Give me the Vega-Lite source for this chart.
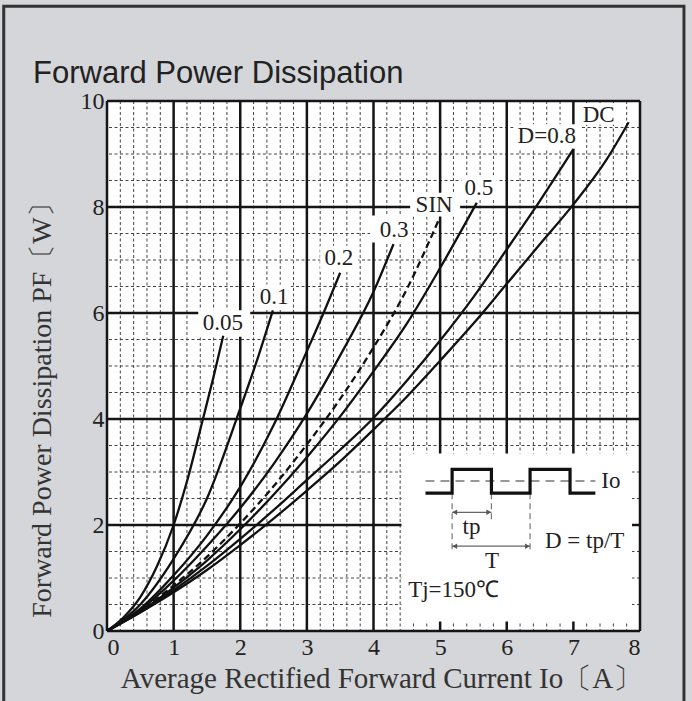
{
  "$schema": "https://vega.github.io/schema/vega-lite/v6.json",
  "width": 533,
  "height": 530,
  "autosize": "none",
  "padding": {"left": 107, "top": 101, "right": 52, "bottom": 70},
  "background": "#d4d6d9",
  "view": {"fill": "white", "stroke": null},
  "config": {
    "font": "Liberation Serif",
    "axisX": {"grid": false, "domain": false, "ticks": false, "labelFont": "Liberation Serif", "labelFontSize": 24, "labelColor": "#222", "labelPadding": 4, "titleFont": "Liberation Serif", "titleFontSize": 29, "titleFontWeight": "normal", "titleColor": "#333"},
    "axisY": {"grid": false, "domain": false, "ticks": false, "labelFont": "Liberation Serif", "labelFontSize": 24, "labelColor": "#222", "labelPadding": 3, "titleFont": "Liberation Serif", "titleFontSize": 28, "titleFontWeight": "normal", "titleColor": "#333"}
  },
  "title": {"text": "Forward Power Dissipation", "anchor": "start", "frame": "group", "dx": -74, "offset": -109, "baseline": "alphabetic", "font": "Liberation Sans", "fontSize": 31, "fontWeight": "normal", "color": "#222"},
  "datasets": {
    "vminor": [{"x":0.2},{"x":0.4},{"x":0.6},{"x":0.8},{"x":1.2},{"x":1.4},{"x":1.6},{"x":1.8},{"x":2.2},{"x":2.4},{"x":2.6},{"x":2.8},{"x":3.2},{"x":3.4},{"x":3.6},{"x":3.8},{"x":4.2},{"x":4.4},{"x":4.6},{"x":4.8},{"x":5.2},{"x":5.4},{"x":5.6},{"x":5.8},{"x":6.2},{"x":6.4},{"x":6.6},{"x":6.8},{"x":7.2},{"x":7.4},{"x":7.6},{"x":7.8}],
    "hminor": [{"y":0.5},{"y":1},{"y":1.5},{"y":2.5},{"y":3},{"y":3.5},{"y":4.5},{"y":5},{"y":5.5},{"y":6.5},{"y":7},{"y":7.5},{"y":8.5},{"y":9},{"y":9.5}],
    "vmajor": [{"x":0},{"x":1},{"x":2},{"x":3},{"x":4},{"x":5},{"x":6},{"x":7},{"x":8}],
    "hmajor": [{"y":0},{"y":2},{"y":4},{"y":6},{"y":8},{"y":10}],
    "curves": [
      {"s":"0.05","x":0,"y":0},{"s":"0.05","x":0.25,"y":0.26},{"s":"0.05","x":0.5,"y":0.64},{"s":"0.05","x":0.75,"y":1.22},{"s":"0.05","x":1,"y":2.0},{"s":"0.05","x":1.2,"y":2.82},{"s":"0.05","x":1.44,"y":4.0},{"s":"0.05","x":1.6,"y":4.8},{"s":"0.05","x":1.745,"y":5.57},
      {"s":"0.1","x":0,"y":0},{"s":"0.1","x":0.5,"y":0.5},{"s":"0.1","x":1,"y":1.36},{"s":"0.1","x":1.5,"y":2.5},{"s":"0.1","x":2,"y":4.2},{"s":"0.1","x":2.25,"y":5.1},{"s":"0.1","x":2.49,"y":6.05},
      {"s":"0.2","x":0,"y":0},{"s":"0.2","x":0.5,"y":0.42},{"s":"0.2","x":1,"y":1.05},{"s":"0.2","x":1.5,"y":1.8},{"s":"0.2","x":2,"y":2.72},{"s":"0.2","x":2.5,"y":3.88},{"s":"0.2","x":3,"y":5.28},{"s":"0.2","x":3.25,"y":6.0},{"s":"0.2","x":3.5,"y":6.76},
      {"s":"0.3","x":0,"y":0},{"s":"0.3","x":0.5,"y":0.4},{"s":"0.3","x":1,"y":0.95},{"s":"0.3","x":1.5,"y":1.6},{"s":"0.3","x":2,"y":2.32},{"s":"0.3","x":2.5,"y":3.15},{"s":"0.3","x":3,"y":4.1},{"s":"0.3","x":3.5,"y":5.2},{"s":"0.3","x":4,"y":6.4},{"s":"0.3","x":4.3,"y":7.3},
      {"s":"0.5","x":0,"y":0},{"s":"0.5","x":0.5,"y":0.37},{"s":"0.5","x":1,"y":0.82},{"s":"0.5","x":1.5,"y":1.33},{"s":"0.5","x":2,"y":1.92},{"s":"0.5","x":2.5,"y":2.57},{"s":"0.5","x":3,"y":3.28},{"s":"0.5","x":3.5,"y":4.05},{"s":"0.5","x":4,"y":4.9},{"s":"0.5","x":4.5,"y":5.8},{"s":"0.5","x":5,"y":6.85},{"s":"0.5","x":5.55,"y":8.08},
      {"s":"0.8","x":0,"y":0},{"s":"0.8","x":0.5,"y":0.36},{"s":"0.8","x":1,"y":0.77},{"s":"0.8","x":1.5,"y":1.23},{"s":"0.8","x":2,"y":1.74},{"s":"0.8","x":2.5,"y":2.28},{"s":"0.8","x":3,"y":2.85},{"s":"0.8","x":3.5,"y":3.42},{"s":"0.8","x":4,"y":4.02},{"s":"0.8","x":4.5,"y":4.72},{"s":"0.8","x":5,"y":5.48},{"s":"0.8","x":5.5,"y":6.3},{"s":"0.8","x":6,"y":7.2},{"s":"0.8","x":6.5,"y":8.12},{"s":"0.8","x":7,"y":9.09},
      {"s":"DC","x":0,"y":0},{"s":"DC","x":0.5,"y":0.35},{"s":"DC","x":1,"y":0.73},{"s":"DC","x":1.5,"y":1.15},{"s":"DC","x":2,"y":1.62},{"s":"DC","x":2.5,"y":2.12},{"s":"DC","x":3,"y":2.65},{"s":"DC","x":3.5,"y":3.2},{"s":"DC","x":4,"y":3.8},{"s":"DC","x":4.5,"y":4.42},{"s":"DC","x":5,"y":5.1},{"s":"DC","x":5.5,"y":5.8},{"s":"DC","x":6,"y":6.55},{"s":"DC","x":6.5,"y":7.3},{"s":"DC","x":7,"y":8.05},{"s":"DC","x":7.5,"y":8.9},{"s":"DC","x":7.83,"y":9.6}
    ],
    "sin": [
      {"s":"SIN","x":0,"y":0},{"s":"SIN","x":0.5,"y":0.38},{"s":"SIN","x":1,"y":0.86},{"s":"SIN","x":1.5,"y":1.4},{"s":"SIN","x":2,"y":2.03},{"s":"SIN","x":2.5,"y":2.73},{"s":"SIN","x":3,"y":3.52},{"s":"SIN","x":3.5,"y":4.38},{"s":"SIN","x":4,"y":5.35},{"s":"SIN","x":4.5,"y":6.45},{"s":"SIN","x":4.98,"y":7.76}
    ],
    "labels": [
      {"t":"0.05","x":1.74,"y":5.81,"x1":1.37,"x2":2.15,"y1":5.55,"y2":6.05},
      {"t":"0.1","x":2.51,"y":6.31,"x1":2.25,"x2":2.76,"y1":6.08,"y2":6.54},
      {"t":"0.2","x":3.48,"y":7.03,"x1":3.2,"x2":3.77,"y1":6.78,"y2":7.27},
      {"t":"0.3","x":4.31,"y":7.56,"x1":3.95,"x2":4.58,"y1":7.33,"y2":7.84},
      {"t":"SIN","x":4.91,"y":8.04,"x1":4.55,"x2":5.3,"y1":7.82,"y2":8.27},
      {"t":"0.5","x":5.58,"y":8.36,"x1":5.32,"x2":5.85,"y1":8.14,"y2":8.6},
      {"t":"D=0.8","x":6.6,"y":9.34,"x1":6.1,"x2":7.11,"y1":9.1,"y2":9.56},
      {"t":"DC","x":7.38,"y":9.73,"x1":7.09,"x2":7.65,"y1":9.55,"y2":9.96}
    ],
    "wave": [
      {"o":1,"x":4.78,"y":2.6},{"o":2,"x":5.18,"y":2.6},{"o":3,"x":5.18,"y":3.05},{"o":4,"x":5.77,"y":3.05},{"o":5,"x":5.77,"y":2.6},{"o":6,"x":6.35,"y":2.6},{"o":7,"x":6.35,"y":3.05},{"o":8,"x":6.95,"y":3.05},{"o":9,"x":6.95,"y":2.6},{"o":10,"x":7.33,"y":2.6}
    ],
    "vdash": [
      {"x":5.18,"y":2.6,"y2":1.49},{"x":6.35,"y":2.6,"y2":1.49},{"x":5.77,"y":2.6,"y2":2.09}
    ],
    "arrows": [
      {"y":2.24,"x":5.18,"x2":5.77},{"y":1.6,"x":5.18,"x2":6.35}
    ],
    "heads": [
      {"x":5.22,"y":2.24,"d":"triangle-left"},{"x":5.73,"y":2.24,"d":"triangle-right"},
      {"x":5.22,"y":1.6,"d":"triangle-left"},{"x":6.31,"y":1.6,"d":"triangle-right"}
    ],
    "insetcenter": [
      {"t":"tp","x":5.47,"y":1.96},
      {"t":"T","x":5.78,"y":1.33},
      {"t":"D = tp/T","x":7.17,"y":1.7}
    ],
    "insetleft": [
      {"t":"Io","x":7.42,"y":2.83},
      {"t":"Tj=150℃","x":4.52,"y":0.77}
    ]
  },
  "layer": [
    {
      "data": {"name": "vminor"},
      "mark": {"type": "rule", "stroke": "#444", "strokeWidth": 1, "strokeDash": [3, 2.5]},
      "encoding": {
        "x": {"field": "x", "type": "quantitative", "scale": {"domain": [0, 8], "nice": false, "zero": false}, "axis": {"values": [0,1,2,3,4,5,6,7,8], "format": "d", "title": "Average Rectified Forward Current  Io〔A〕", "titleX": 274, "titleY": 56, "titleBaseline": "alphabetic"}}
      }
    },
    {
      "data": {"name": "hminor"},
      "mark": {"type": "rule", "stroke": "#444", "strokeWidth": 1, "strokeDash": [3, 2.5]},
      "encoding": {
        "y": {"field": "y", "type": "quantitative", "scale": {"domain": [0, 10], "nice": false, "zero": false}, "axis": {"values": [0,2,4,6,8,10], "format": "d", "title": "Forward Power Dissipation  PF〔W〕", "titleX": -65, "titleY": 302, "titleBaseline": "middle", "titleAngle": -90}}
      }
    },
    {
      "data": {"name": "vmajor"},
      "mark": {"type": "rule", "stroke": "#151515", "strokeWidth": 2.5},
      "encoding": {"x": {"field": "x", "type": "quantitative"}}
    },
    {
      "data": {"name": "hmajor"},
      "mark": {"type": "rule", "stroke": "#151515", "strokeWidth": 2.5},
      "encoding": {"y": {"field": "y", "type": "quantitative"}}
    },
    {
      "data": {"name": "labels"},
      "mark": {"type": "rect", "fill": "white"},
      "encoding": {
        "x": {"field": "x1", "type": "quantitative"},
        "x2": {"field": "x2"},
        "y": {"field": "y1", "type": "quantitative"},
        "y2": {"field": "y2"}
      }
    },
    {
      "data": {"values": [{"x1": 4.42, "x2": 7.88, "y1": 0.18, "y2": 3.35}]},
      "mark": {"type": "rect", "fill": "white"},
      "encoding": {
        "x": {"field": "x1", "type": "quantitative"},
        "x2": {"field": "x2"},
        "y": {"field": "y1", "type": "quantitative"},
        "y2": {"field": "y2"}
      }
    },
    {
      "data": {"name": "curves"},
      "mark": {"type": "line", "stroke": "#111", "strokeWidth": 2.3, "interpolate": "monotone"},
      "encoding": {
        "x": {"field": "x", "type": "quantitative"},
        "y": {"field": "y", "type": "quantitative"},
        "detail": {"field": "s"}
      }
    },
    {
      "data": {"name": "sin"},
      "mark": {"type": "line", "stroke": "#111", "strokeWidth": 2.3, "strokeDash": [7, 4], "interpolate": "monotone"},
      "encoding": {
        "x": {"field": "x", "type": "quantitative"},
        "y": {"field": "y", "type": "quantitative"}
      }
    },
    {
      "data": {"name": "labels"},
      "mark": {"type": "text", "font": "Liberation Serif", "fontSize": 23, "color": "#222", "align": "center", "baseline": "middle"},
      "encoding": {
        "x": {"field": "x", "type": "quantitative"},
        "y": {"field": "y", "type": "quantitative"},
        "text": {"field": "t"}
      }
    },
    {
      "data": {"values": [{"x": 4.78, "x2": 7.33, "y": 2.83}]},
      "mark": {"type": "rule", "stroke": "#777", "strokeWidth": 1.5, "strokeDash": [9, 6]},
      "encoding": {
        "x": {"field": "x", "type": "quantitative"},
        "x2": {"field": "x2"},
        "y": {"field": "y", "type": "quantitative"}
      }
    },
    {
      "data": {"name": "vdash"},
      "mark": {"type": "rule", "stroke": "#777", "strokeWidth": 1.2, "strokeDash": [6, 4]},
      "encoding": {
        "x": {"field": "x", "type": "quantitative"},
        "y": {"field": "y", "type": "quantitative"},
        "y2": {"field": "y2"}
      }
    },
    {
      "data": {"name": "arrows"},
      "mark": {"type": "rule", "stroke": "#666", "strokeWidth": 1.2},
      "encoding": {
        "x": {"field": "x", "type": "quantitative"},
        "x2": {"field": "x2"},
        "y": {"field": "y", "type": "quantitative"}
      }
    },
    {
      "data": {"name": "heads"},
      "mark": {"type": "point", "filled": true, "color": "#555", "size": 30, "opacity": 1},
      "encoding": {
        "x": {"field": "x", "type": "quantitative"},
        "y": {"field": "y", "type": "quantitative"},
        "shape": {"field": "d", "type": "nominal", "scale": null}
      }
    },
    {
      "data": {"name": "wave"},
      "mark": {"type": "line", "stroke": "#111", "strokeWidth": 3.2, "strokeJoin": "miter"},
      "encoding": {
        "x": {"field": "x", "type": "quantitative"},
        "y": {"field": "y", "type": "quantitative"},
        "order": {"field": "o"}
      }
    },
    {
      "data": {"name": "insetcenter"},
      "mark": {"type": "text", "font": "Liberation Serif", "fontSize": 23, "color": "#222", "align": "center", "baseline": "middle"},
      "encoding": {
        "x": {"field": "x", "type": "quantitative"},
        "y": {"field": "y", "type": "quantitative"},
        "text": {"field": "t"}
      }
    },
    {
      "data": {"name": "insetleft"},
      "mark": {"type": "text", "font": "Liberation Serif", "fontSize": 23, "color": "#222", "align": "left", "baseline": "middle"},
      "encoding": {
        "x": {"field": "x", "type": "quantitative"},
        "y": {"field": "y", "type": "quantitative"},
        "text": {"field": "t"}
      }
    },
    {
      "data": {"values": [{"x1": -1.55, "x2": 8.66, "y1": 11.79, "y2": -1.75}]},
      "mark": {"type": "rect", "fill": null, "stroke": "#333", "strokeWidth": 3},
      "encoding": {
        "x": {"field": "x1", "type": "quantitative"},
        "x2": {"field": "x2"},
        "y": {"field": "y1", "type": "quantitative"},
        "y2": {"field": "y2"}
      }
    }
  ]
}
